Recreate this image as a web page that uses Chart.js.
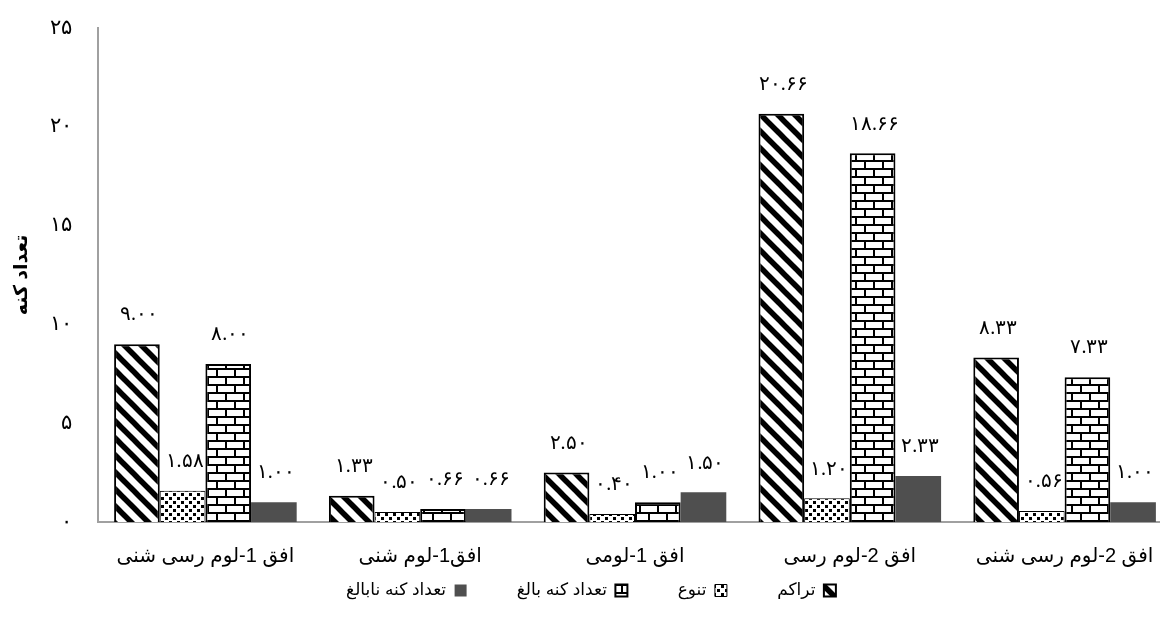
<!DOCTYPE html>
<html>
<head>
<meta charset="utf-8">
<script src="https://cdn.jsdelivr.net/npm/chart.js@4/dist/chart.umd.min.js"></script>
<style>
  html, body { margin: 0; padding: 0; background: #fff; overflow: hidden; }
  #wrap { width: 1172px; height: 624px; position: relative; }
</style>
</head>
<body>
<div id="wrap"><canvas id="barchart"></canvas></div>
<script>
// categories (left to right as drawn)
const categories = ['افق 1-لوم رسی شنی', 'افق1-لوم شنی', 'افق 1-لومی', 'افق 2-لوم رسی', 'افق 2-لوم رسی شنی'];
const seriesNames = ['تراکم', 'تنوع', 'تعداد کنه بالغ', 'تعداد کنه نابالغ'];
const taraakom = [9.00, 1.33, 2.50, 20.66, 8.33];
const tanavo = [1.58, 0.50, 0.40, 1.20, 0.56];
const baligh = [8.00, 0.66, 1.00, 18.66, 7.33];
const nabaligh = [1.00, 0.66, 1.50, 2.33, 1.00];
const yTicks = [0, 5, 10, 15, 20, 25];
const yTitle = 'تعداد کنه';

const faDigits = '۰۱۲۳۴۵۶۷۸۹';
function toFa(s) {
  return String(s).replace(/[0-9]/g, d => faDigits[d]);
}

// hatch patterns
function makeTile(w, h, draw) {
  const c = document.createElement('canvas');
  c.width = w; c.height = h;
  const g = c.getContext('2d');
  g.fillStyle = '#fff';
  g.fillRect(0, 0, w, h);
  draw(g, w, h);
  return document.createElement('canvas').getContext('2d').createPattern(c, 'repeat');
}

const stripes = makeTile(17, 17, (g, s) => {
  g.strokeStyle = '#000';
  g.lineWidth = 5.5;
  for (let k = -2; k <= 2; k++) {
    g.beginPath();
    g.moveTo(k * s - s, -s);
    g.lineTo(k * s + 2 * s, 2 * s);
    g.stroke();
  }
});

const dots = makeTile(8, 8, (g) => {
  g.fillStyle = '#000';
  g.fillRect(1, 1, 3, 3);
  g.fillRect(5, 5, 3, 3);
});

const bricks = makeTile(18, 16, (g, w, h) => {
  g.fillStyle = '#000';
  g.fillRect(0, 0, w, 2);
  g.fillRect(0, 8, w, 2);
  g.fillRect(0, 0, 2, 8);
  g.fillRect(9, 8, 2, 8);
});

const labelPlugin = {
  id: 'barLabels',
  afterDatasetsDraw(chart) {
    const ctx = chart.ctx;
    ctx.save();
    ctx.font = '20px "Liberation Serif", "DejaVu Serif", serif';
    ctx.fillStyle = '#000';
    ctx.textAlign = 'center';
    ctx.textBaseline = 'middle';
    if ('letterSpacing' in ctx) ctx.letterSpacing = '4px';
    chart.data.datasets.forEach((ds, i) => {
      const meta = chart.getDatasetMeta(i);
      meta.data.forEach((bar, j) => {
        ctx.fillText(toFa(ds.data[j].toFixed(2)), bar.x + 2, bar.y - 29);
      });
    });
    ctx.restore();
  }
};

const defaultLegendLabels = Chart.defaults.plugins.legend.labels.generateLabels;

const ctx = document.getElementById('barchart').getContext('2d');
const barchart = new Chart(ctx, {
  type: 'bar',
  data: {
    labels: categories,
    datasets: [
      { label: seriesNames[0], data: taraakom, backgroundColor: stripes, borderColor: '#000', borderWidth: 2 },
      { label: seriesNames[1], data: tanavo, backgroundColor: dots, borderColor: '#000', borderWidth: 1 },
      { label: seriesNames[2], data: baligh, backgroundColor: bricks, borderColor: '#000', borderWidth: 2 },
      { label: seriesNames[3], data: nabaligh, backgroundColor: '#4f4f4f', borderWidth: 0 }
    ]
  },
  options: {
    responsive: true,
    maintainAspectRatio: false,
    animation: false,
    barPercentage: 1,
    categoryPercentage: 0.85,
    layout: { padding: { left: 10, top: 28, right: 0, bottom: 15 } },
    plugins: {
      tooltip: { enabled: false },
      legend: {
        position: 'bottom',
        rtl: true,
        textDirection: 'rtl',
        labels: {
          color: '#000',
          font: { family: '"Liberation Sans", "DejaVu Sans", sans-serif', size: 17 },
          boxWidth: 12,
          boxHeight: 12,
          padding: 3,
          generateLabels(chart) {
            const items = defaultLegendLabels(chart);
            items.forEach((it, i) => {
              if (i < items.length - 1) it.text = it.text + '\u00a0'.repeat(10);
            });
            return items;
          }
        }
      }
    },
    scales: {
      x: {
        grid: { display: false, drawTicks: false },
        border: { display: true, color: '#a0a0a0', width: 2 },
        afterFit(scale) {
          scale.height = 57;
          scale.paddingLeft = 0;
          scale.paddingRight = 0;
        },
        ticks: {
          color: '#000',
          padding: 24,
          maxRotation: 0,
          font: { family: '"Liberation Sans", "DejaVu Sans", sans-serif', size: 20, lineHeight: 1 }
        }
      },
      y: {
        min: 0,
        max: 25,
        grid: { display: false, drawTicks: false },
        border: { display: true, color: '#a0a0a0', width: 2 },
        afterBuildTicks(axis) {
          axis.ticks = yTicks.map(v => ({ value: v }));
        },
        afterFit(scale) {
          scale.width = 88;
          scale.paddingTop = 0;
          scale.paddingBottom = 0;
        },
        ticks: {
          color: '#000',
          padding: 26,
          font: { family: '"Liberation Serif", "DejaVu Serif", serif', size: 21 },
          callback: v => toFa(v)
        },
        title: {
          display: true,
          text: yTitle,
          color: '#000',
          font: { family: '"Liberation Sans", "DejaVu Sans", sans-serif', size: 19, weight: 'bold' },
          padding: { top: 0, bottom: 12 }
        }
      }
    }
  },
  plugins: [labelPlugin]
});
</script>
</body>
</html>
